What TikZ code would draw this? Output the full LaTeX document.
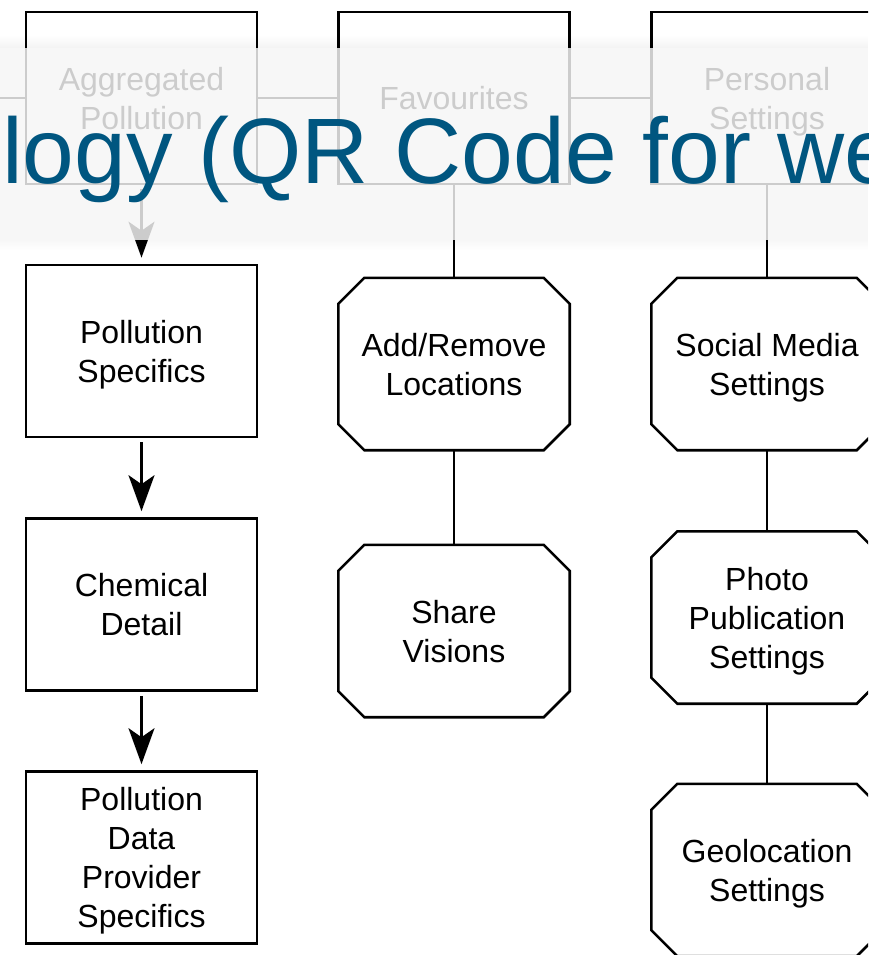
\documentclass[tikz,border=0pt]{standalone}
\usepackage{fontspec}
\setmainfont{Liberation Sans}
\usepackage{xcolor}
\usetikzlibrary{arrows.meta,calc}

\definecolor{bannergrey}{RGB}{246,246,246}
\definecolor{titleblue}{RGB}{0,86,128}

\tikzset{
  boxtext/.style={font=\fontsize{32}{39}\selectfont, align=center,
    text depth=-4pt},
  rectbox/.style={boxtext, draw, line width=2.6pt, minimum width=231pt,
    minimum height=172pt, inner sep=0pt},
  octbox/.style={boxtext, minimum width=231pt, minimum height=172pt,
    inner sep=0pt},
  octline/.style={line width=2.6pt, line join=miter},
  link/.style={line width=2.6pt},
  flowarrow/.style={line width=2.5pt,
    -{Stealth[length=36pt,width=26pt,inset=9pt]},
    shorten <=4pt, shorten >=6pt}
}

% octagon with cut corners round a named node
\newcommand\drawoct[1]{%
  \draw[octline] ($(#1.north west)+(26,0)$) -- ($(#1.north east)+(-26,0)$)
    -- ($(#1.north east)+(0,26)$) -- ($(#1.south east)+(0,-26)$)
    -- ($(#1.south east)+(-26,0)$) -- ($(#1.south west)+(26,0)$)
    -- ($(#1.south west)+(0,-26)$) -- ($(#1.north west)+(0,26)$) -- cycle;}

\begin{document}
\begin{tikzpicture}[x=1pt,y=-1pt]
  \useasboundingbox (0,0) rectangle (868,955);
  \clip (0,0) rectangle (868,955);
  \fill[white] (0,0) rectangle (868,955);

  % top row
  \node[rectbox] (agg) at (141.5,98) {Aggregated\\Pollution};
  \node[rectbox] (fav) at (454,98) {Favourites};
  \node[rectbox] (pers) at (767,98) {Personal\\Settings};
  \coordinate (offleft) at (0,98);

  % pollution column
  \node[rectbox] (spec) at (141.5,351) {Pollution\\Specifics};
  \node[rectbox] (chem) at (141.5,604.5) {Chemical\\Detail};
  \node[rectbox] (prov) at (141.5,857.5) {Pollution\\Data\\Provider\\Specifics};

  % favourites column
  \node[octbox] (addrem) at (454,364) {Add/Remove\\Locations};
  \node[octbox] (share) at (454,631) {Share\\Visions};

  % settings column
  \node[octbox] (social) at (767,364) {Social Media\\Settings};
  \node[octbox] (photo) at (767,617.5) {Photo\\Publication\\Settings};
  \node[octbox] (geo) at (767,870) {Geolocation\\Settings};

  \foreach \n in {addrem,share,social,photo,geo} {\drawoct{\n}}

  \draw[link] (offleft) -- (agg.west);
  \draw[link] (agg.east) -- (fav.west);
  \draw[link] (fav.east) -- (pers.west);
  \draw[link] (fav.south) -- (addrem.north);
  \draw[link] (addrem.south) -- (share.north);
  \draw[link] (pers.south) -- (social.north);
  \draw[link] (social.south) -- (photo.north);
  \draw[link] (photo.south) -- (geo.north);
  \draw[flowarrow] (agg.south) -- (spec.north);
  \draw[flowarrow] (spec.south) -- (chem.north);
  \draw[flowarrow] (chem.south) -- (prov.north);

  % title banner over the diagram
  \foreach \k in {1,...,12}
    \fill[black, opacity=0.0035*\k] (0,35+\k) rectangle (868,36+\k);
  \foreach \k in {1,...,10}
    \fill[black, opacity=0.003*(11-\k)] (0,239+\k) rectangle (868,240+\k);
  \fill[bannergrey, opacity=0.83] (0,48) rectangle (868,240);
  \node[titleblue, font=\fontsize{93}{100}\selectfont, inner sep=0pt,
    anchor=base west] (title) at (2,183) {logy (QR Code for we};
\end{tikzpicture}
\end{document}
